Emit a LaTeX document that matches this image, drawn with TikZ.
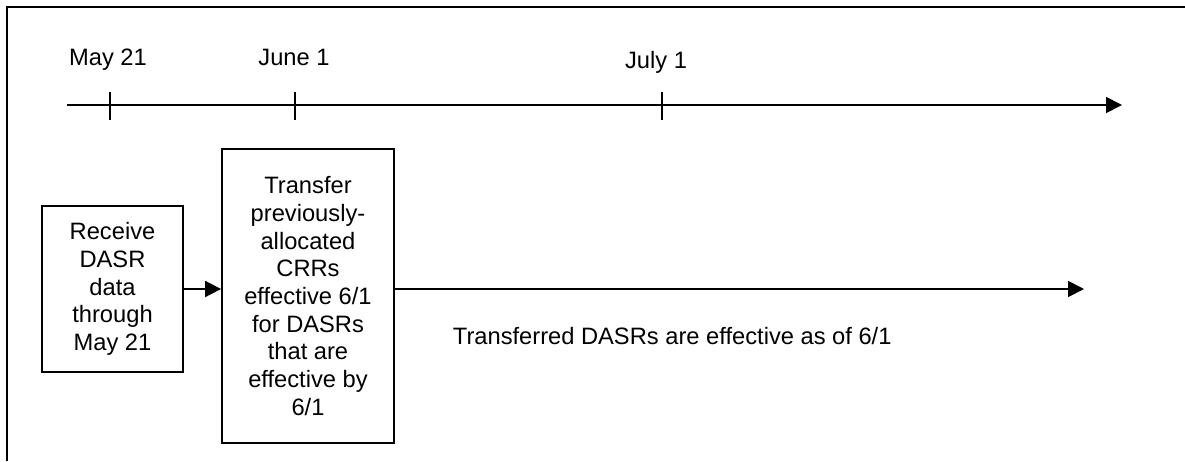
\documentclass[tikz,border=0pt]{standalone}
\usepackage{fontspec}
\setmainfont{Liberation Sans}
\usetikzlibrary{arrows.meta}
\begin{document}
\begin{tikzpicture}[x=1pt,y=-1pt,
  line width=1.8pt,
  lbl/.style={font=\fontsize{23.7}{27.7}\selectfont, inner sep=0pt},
  stepbox/.style={draw, line width=1.8pt, align=center, inner sep=0pt, font=\fontsize{23.7}{27.7}\selectfont},
  arr/.style={-{Triangle[length=16pt,width=16pt]}}]
\useasboundingbox (0,0) rectangle (1185,461);
% frame (top and left edges)
\draw[line width=2pt] (7,461) -- (7,7) -- (1185,7);
% timeline
\coordinate (tlstart) at (67,105);
\coordinate (tlend) at (1122,105);
\draw[arr] (tlstart) -- (tlend);
\draw (110,92) -- (110,120);
\draw (295,92) -- (295,120);
\draw (662,92) -- (662,120);
\node[lbl, anchor=base] (may) at (108,65) {May 21};
\node[lbl, anchor=base] (june) at (294,65) {June 1};
\node[lbl, anchor=base] (july) at (656,68) {July 1};
% boxes
\node[stepbox, minimum width=141pt, minimum height=166pt] (recv) at (112.5,289) {Receive\\DASR\\data\\through\\May 21};
\node[stepbox, minimum width=172pt, minimum height=294pt] (xfer) at (308,296) {Transfer\\previously-\\allocated\\CRRs\\effective 6/1\\for DASRs\\that are\\effective by\\6/1};
\draw[arr] (recv.east) -- (xfer.west |- recv.east);
\coordinate (endB) at (1084,289);
\draw[arr] (xfer.east |- endB) -- (endB);
\node[lbl, anchor=base west] (note) at (452,344) {Transferred DASRs are effective as of 6/1};
\end{tikzpicture}
\end{document}
